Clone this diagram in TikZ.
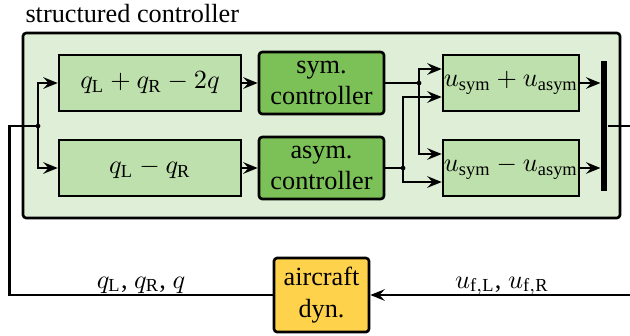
\documentclass[tikz,border=0pt]{standalone}
\usepackage{fontspec}
\setmainfont{Liberation Serif}
\usetikzlibrary{arrows.meta,calc}
\definecolor{paleGreen}{RGB}{223,238,214}
\definecolor{midGreen}{RGB}{190,224,172}
\definecolor{darkGreen}{RGB}{124,192,88}
\definecolor{dynYellow}{RGB}{255,210,76}
\tikzset{
	sumblock/.style={draw, line width=1pt, fill=midGreen, inner sep=0pt, minimum width=69.3pt, minimum height=21.3pt},
	mixblock/.style={sumblock, minimum width=51.8pt},
	ctrlblock/.style={draw, line width=1pt, fill=darkGreen, rounded corners=1.2pt, inner sep=0pt, minimum width=47.6pt, minimum height=23.6pt, align=center},
	plantblock/.style={ctrlblock, fill=dynYellow, minimum width=36.2pt, minimum height=28.2pt},
	sig/.style={line width=0.9pt, -{Stealth[length=5.5pt,width=4.4pt,inset=2pt]}},
	wire/.style={line width=0.9pt},
}

\begin{document}
\begin{tikzpicture}[x=0.381pt, y=-0.381pt]
		%%%%% START %%%%%
		\useasboundingbox (0, 0) rectangle (630, 335);
		
		\draw[line width=1pt, fill=paleGreen, rounded corners=1.2pt] (23, 33) rectangle (620, 218);
		\node[anchor=base west, inner sep=0pt] (title) at (25, 22) {structured controller};
		
		\node[sumblock] (qsym) at (150, 83) {$q_\mathrm{L} + q_\mathrm{R} - 2q$};
		\node[sumblock] (qasym) at (150, 168) {$q_\mathrm{L} - q_\mathrm{R}$};
		\node[ctrlblock] (csym) at (321.5, 83) {sym.\\controller};
		\node[ctrlblock] (casym) at (321.5, 168) {asym.\\controller};
		\node[mixblock] (usum) at (511, 83) {$u_\mathrm{sym} + u_\mathrm{asym}$};
		\node[mixblock] (udiff) at (511, 168) {$u_\mathrm{sym} - u_\mathrm{asym}$};
		\node[fill=black, inner sep=0pt, minimum width=2.3pt, minimum height=49.9pt] (mux) at (604, 126) {};
		\node[plantblock] (plant) at (321.5, 295) {aircraft\\dyn.};
		
		% splitting points
		\coordinate (split) at (38, 126);
		\coordinate (symsplit) at (419, 83);
		\coordinate (asymsplit) at (403, 168);
		\coordinate (fbL) at (9.5, 126);
		\coordinate (outR) at (630, 126);
		\coordinate (inR) at (630, 295);
		
		\draw[sig] (split) |- (qsym.west);
		\draw[sig] (split) |- (qasym.west);
		\draw[sig] (qsym) -- (csym);
		\draw[sig] (qasym) -- (casym);
		
		\draw[wire] (csym.east) -- (symsplit);
		\draw[wire] (casym.east) -- (asymsplit);
		\draw[sig] (symsplit) |- ($(usum.west)+(0,-14)$);
		\draw[sig] (symsplit) |- ($(udiff.west)+(0,-14)$);
		\draw[sig] (asymsplit) |- ($(usum.west)+(0,14)$);
		\draw[sig] (asymsplit) |- ($(udiff.west)+(0,14)$);
		
		\draw[sig] (usum.east) -- (usum.east -| mux.west);
		\draw[sig] (udiff.east) -- (udiff.east -| mux.west);
		\draw[wire] (mux.east) -- (outR);
		
		\draw[sig] (inR) -- (plant.east);
		\draw[wire] (plant.west) -| (fbL) -- (split);
		
		\fill (split) circle (0.9pt);
		\fill (symsplit) circle (0.9pt);
		\fill (asymsplit) circle (0.9pt);
		
		\node[anchor=base] (ylab) at (141, 288) {$q_\mathrm{L}$, $q_\mathrm{R}$, $q$};
		\node[anchor=base] (ulab) at (502, 288) {$u_\mathrm{f,L}$, $u_\mathrm{f,R}$};
		%%%%% END %%%%%
\end{tikzpicture}
\end{document}
